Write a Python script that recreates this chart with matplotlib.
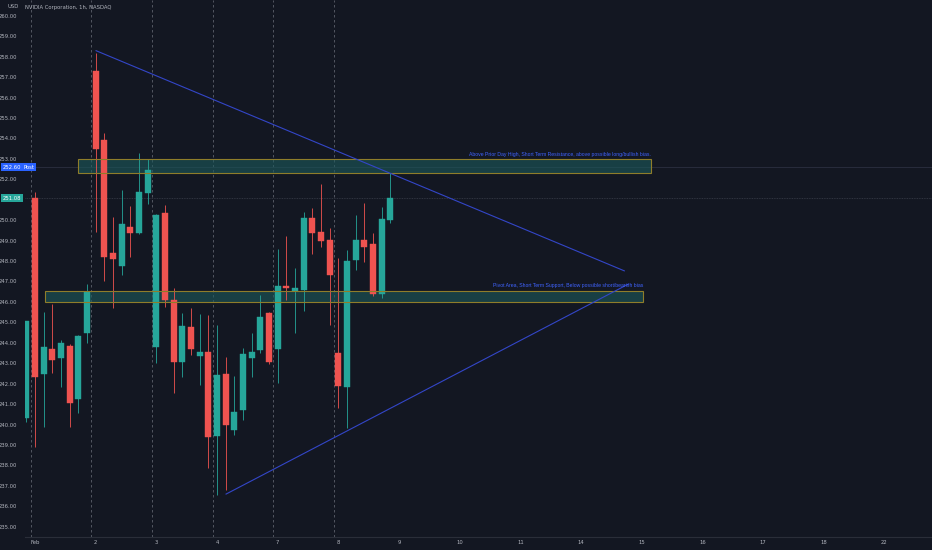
import matplotlib
matplotlib.use("Agg")
import matplotlib.pyplot as plt
import matplotlib.transforms as mtransforms
from matplotlib.patches import Rectangle

# hourly NVDA bars, index 0 = last bar of Jan 31
opens = [240.30, 251.07, 242.46, 243.69, 243.27, 243.86, 241.23, 244.46,
         257.30, 253.90, 248.37, 247.77, 249.65, 249.35, 251.31,
         243.78, 250.33, 246.09, 243.07, 244.78, 243.35, 243.53,
         239.45, 242.46, 239.73, 240.71, 243.24, 243.64, 245.44,
         243.68, 246.78, 246.53, 246.58, 250.09, 249.40, 249.03,
         243.51, 241.85, 248.05, 249.03, 248.82, 246.39, 250.00]
highs = [245.05, 251.40, 245.50, 245.90, 244.13, 243.95, 244.40, 246.90,
         258.20, 254.25, 250.17, 251.47, 250.70, 253.28, 252.97,
         250.30, 250.74, 246.67, 245.44, 245.68, 245.40, 245.36,
         244.87, 243.32, 242.37, 243.73, 244.46, 246.33, 245.50,
         248.57, 249.22, 247.64, 250.38, 250.58, 251.77, 249.60,
         248.13, 248.54, 250.25, 250.85, 249.38, 250.66, 252.30]
lows = [240.15, 238.90, 239.90, 242.50, 241.85, 239.90, 240.55, 244.00,
        249.40, 247.00, 245.70, 247.30, 248.20, 249.30, 250.80,
        243.00, 245.76, 241.53, 242.34, 243.40, 241.93, 237.86,
        236.55, 236.80, 239.50, 240.22, 242.34, 243.50, 242.95,
        242.02, 246.09, 244.49, 245.55, 248.34, 248.70, 244.87,
        240.79, 239.81, 247.56, 247.97, 246.30, 246.17, 249.85]
closes = [245.05, 242.34, 243.78, 243.16, 243.97, 241.04, 244.34, 246.50,
          253.50, 248.20, 248.08, 249.81, 249.38, 251.36, 252.45,
          250.25, 246.09, 243.07, 244.82, 243.68, 243.53, 239.41,
          242.42, 240.00, 240.63, 243.45, 243.55, 245.27, 243.07,
          246.78, 246.70, 246.69, 250.09, 249.35, 248.98, 247.31,
          241.88, 248.01, 249.03, 248.70, 246.39, 250.04, 251.08]

day_labels = ["Feb", "2", "3", "4", "7", "8", "9", "10", "11", "14", "15", "16", "17", "18", "22"]
day_start = [1, 8, 15, 22, 29, 36, 43, 50, 57, 64, 71, 78, 85, 92, 99]
session_lines = [1, 8, 15, 22, 29, 36]
price_ticks = [235, 236, 237, 238, 239, 240, 241, 242, 243, 244, 245, 246, 247,
               248, 249, 250, 252, 253, 254, 255, 256, 257, 258, 259, 260]  # 251 sits under the last-price tag

resist_zone = (6.0, 72.1, 252.29, 252.97)
support_zone = (2.1, 71.15, 245.98, 246.53)
upper_trend = ([8.05, 69.0], [258.29, 247.52])
lower_trend = ([23.05, 69.5], [236.6, 246.88])
last_price = 251.08
post_price = 252.60

BG = "#131722"
UP = "#26a69a"
DOWN = "#ef5350"
TXT = "#b2b5be"

W, H = 932, 550
fig = plt.figure(figsize=(W / 100, H / 100), dpi=100, facecolor=BG)
ax = fig.add_axes([25 / W, 13 / H, (W - 25) / W, 537 / H], facecolor=BG)

ax.set_xlim(-0.15, 104.5)
ax.set_ylim(234.5, 260.77)

for d in session_lines:
    ax.axvline(d - 0.5, color="#5d606b", lw=0.6, ls=(0, (3, 3)), zorder=1)

ax.axhline(last_price, color="#3a3e4a", lw=0.6, ls=(0, (1, 1)), zorder=1)
ax.axhline(post_price, color="#2c3040", lw=0.6, zorder=1)

for i in range(len(opens)):
    o, h, l, c = opens[i], highs[i], lows[i], closes[i]
    col = UP if c >= o else DOWN
    ax.vlines(i, l, h, color=col, lw=0.6, zorder=3)
    lo, hi = min(o, c), max(o, c)
    if hi - lo < 0.06:
        hi = lo + 0.06
    ax.add_patch(Rectangle((i - 0.36, lo), 0.72, hi - lo, facecolor=col,
                           edgecolor=col, lw=0.3, zorder=4))

for x0, x1, y0, y1 in (resist_zone, support_zone):
    ax.add_patch(Rectangle((x0, y0), x1 - x0, y1 - y0, facecolor="#1c5a5c",
                           alpha=0.6, edgecolor="none", zorder=2))
    ax.add_patch(Rectangle((x0, y0), x1 - x0, y1 - y0, facecolor="none",
                           edgecolor="#8f7d2a", lw=0.8, zorder=5))

ax.plot(*upper_trend, color="#3346c8", lw=0.8, zorder=6)
ax.plot(*lower_trend, color="#3346c8", lw=0.8, zorder=6)

ax.text(resist_zone[1], 253.22, "Above Prior Day High, Short Term Resistance, above possible long/bullish bias.",
        color="#3f63ff", fontsize=3.7, family="Liberation Sans", ha="right", va="center", zorder=7)
ax.text(support_zone[1], 246.80, "Pivot Area, Short Term Support, Below possible short/bearish bias",
        color="#3f63ff", fontsize=3.7, family="Liberation Sans", ha="right", va="center", zorder=7)

# price scale on the left
ax.set_yticks(price_ticks)
ax.set_yticklabels([f"{v:.2f}" for v in price_ticks])
ax.tick_params(axis="y", length=0, pad=6, labelsize=3.8, labelcolor=TXT)
ax.set_xticks(day_start)
ax.set_xticklabels(day_labels)
ax.tick_params(axis="x", length=0, pad=2, labelsize=3.8, labelcolor=TXT)
for s in ("top", "right", "left"):
    ax.spines[s].set_visible(False)
ax.spines["bottom"].set_color("#2a2e39")
ax.spines["bottom"].set_linewidth(0.8)

blend = mtransforms.blended_transform_factory(fig.transFigure, ax.transData)
ax.text(12 / W, post_price, f"{post_price:.2f}", transform=blend, fontsize=3.8, color="white",
        ha="center", va="center", zorder=8,
        bbox=dict(boxstyle="square,pad=0.35", fc="#2962ff", ec="none"), clip_on=False)
ax.text(29 / W, post_price, "Post", transform=blend, fontsize=3.8, color="white",
        ha="center", va="center", zorder=8,
        bbox=dict(boxstyle="square,pad=0.35", fc="#2962ff", ec="none"), clip_on=False)
ax.text(12 / W, last_price, f"{last_price:.2f}", transform=blend, fontsize=3.8, color="white",
        ha="center", va="center", zorder=8,
        bbox=dict(boxstyle="square,pad=0.35", fc=UP, ec="none"), clip_on=False)

fig.text(7 / W, 1 - 7 / H, "USD", color=TXT, fontsize=3.8, va="center")
fig.text(25 / W, 1 - 7 / H, "NVIDIA Corporation, 1h, NASDAQ", color=TXT, fontsize=3.8, va="center")

fig.savefig("out.png", dpi=100, facecolor=BG)
